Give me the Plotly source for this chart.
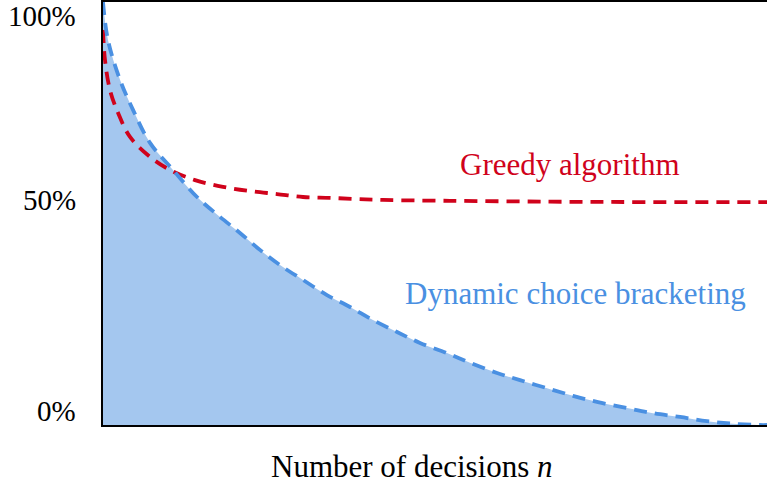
import plotly.graph_objects as go

# Data; x = number of decisions (relative scale 0-100), y = percent
dyn_n = [0, 0.75, 2.56, 4.52, 7.08, 10.54, 14.16, 17.62, 20.63, 23.64, 26.66, 30.12, 33.73,
         37.2, 40.66, 44.28, 47.74, 51.81, 55.27, 59.34, 62.8, 66.87, 70.78, 74.55, 78.92,
         82.83, 86.9, 90.96, 94.88, 98.9, 100]
dyn_pct = [100, 91.0, 81.6, 74.5, 66.7, 60.3, 53.9, 49.2, 45.4, 41.4, 37.8, 34.3, 30.7,
           27.9, 24.8, 22.0, 19.4, 17.0, 14.7, 12.3, 10.6, 8.7, 6.9, 5.4, 4.0,
           2.8, 1.9, 0.9, 0.3, 0.0, 0.0]

greedy_n = [0, 0.3, 1.05, 2.26, 4.07, 7.08, 10.09, 13.86, 18.07, 22.14, 26.2, 30.12, 34.19,
            38.25, 42.17, 52.26, 67.3, 82.4, 100]
greedy_pct = [93.4, 86.3, 79.2, 73.8, 68.1, 63.4, 60.3, 57.9, 56.3, 55.3, 54.6, 53.9, 53.7,
              53.4, 53.2, 53.0, 52.8, 52.7, 52.7]

tick_vals = [100, 50, 0]
tick_text = ["100%", "50%", "0%"]
tick_shift = [-14, 14, 14]

RED = "#d0021b"
BLUE = "#4a90e2"
FILL = "#a4c7ef"
FONT = "Liberation Serif, Times New Roman, serif"

fig = go.Figure()
fig.add_trace(go.Scatter(x=dyn_n, y=dyn_pct, mode="lines", line=dict(width=0, shape="spline"),
                         fill="tozeroy", fillcolor=FILL, hoverinfo="skip", showlegend=False))
fig.add_trace(go.Scatter(x=greedy_n, y=greedy_pct, mode="lines",
                         line=dict(color=RED, width=3.8, dash="13px,8px", shape="spline"),
                         showlegend=False))
fig.add_trace(go.Scatter(x=dyn_n, y=dyn_pct, mode="lines",
                         line=dict(color=BLUE, width=3.8, dash="13px,8px", shape="spline"),
                         showlegend=False))

annotations = []
for v, t, s in zip(tick_vals, tick_text, tick_shift):
    annotations.append(dict(x=0, y=v, xref="paper", yref="y", text=t, showarrow=False,
                            xanchor="right", yanchor="middle", xshift=-25, yshift=s,
                            font=dict(family=FONT, size=29, color="black")))

annotations.append(dict(x=(570 - 103) / 664, y=(425 - 164) / 423, xref="paper", yref="paper",
                        text="Greedy algorithm", showarrow=False, xanchor="center", yanchor="middle",
                        font=dict(family=FONT, size=31, color=RED)))
annotations.append(dict(x=(575 - 103) / 664, y=(425 - 293) / 423, xref="paper", yref="paper",
                        text="Dynamic choice bracketing", showarrow=False, xanchor="center", yanchor="middle",
                        font=dict(family=FONT, size=31, color=BLUE)))
annotations.append(dict(x=(412 - 103) / 664, y=(425 - 467) / 423, xref="paper", yref="paper",
                        text="Number of decisions <i>n</i>", showarrow=False, xanchor="center", yanchor="middle",
                        font=dict(family=FONT, size=31, color="black")))

fig.update_layout(
    width=767, height=486,
    margin=dict(l=103, r=0, t=2, b=61),
    paper_bgcolor="white", plot_bgcolor="white",
    xaxis=dict(range=[0, 100], showline=True, linecolor="black", linewidth=2, mirror=True,
               showgrid=False, zeroline=False, showticklabels=False, ticks=""),
    yaxis=dict(range=[0, 100], showline=True, linecolor="black", linewidth=2, mirror=False,
               showgrid=False, zeroline=False, showticklabels=False, ticks=""),
    annotations=annotations,
)

fig.write_html("out.html", config={"displayModeBar": False},
               post_script="document.body.style.margin='0';document.body.style.overflow='hidden';")
